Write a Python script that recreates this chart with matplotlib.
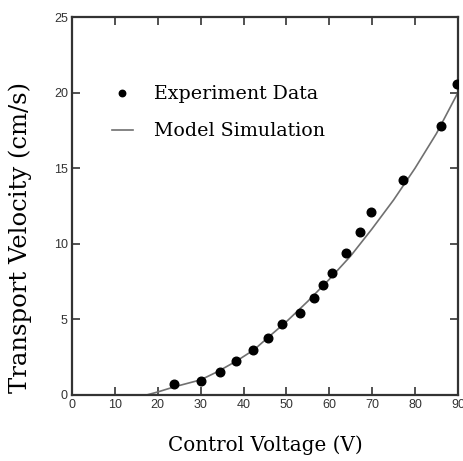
import matplotlib
matplotlib.use("Agg")
import matplotlib.pyplot as plt

# Experiment data
exp_voltage = [23.8, 30.1, 34.4, 38.3, 42.1, 45.6, 48.9, 53.1, 56.4, 58.5, 60.6, 63.9, 67.2, 69.7, 77.3, 86.1, 89.7]
exp_velocity = [0.73, 0.95, 1.5, 2.25, 3.0, 3.8, 4.7, 5.4, 6.4, 7.3, 8.1, 9.4, 10.8, 12.1, 14.2, 17.8, 20.6]

# Model simulation curve
model_voltage = [17.4, 20, 24, 30, 34, 38.5, 42.5, 45.5, 50, 55, 60, 65, 70, 75, 80, 85, 90]
model_velocity = [0.0, 0.2, 0.55, 1.0, 1.55, 2.27, 3.0, 3.75, 4.85, 6.2, 7.65, 9.2, 11.0, 12.9, 15.0, 17.3, 20.0]

x_ticks = [0, 10, 20, 30, 40, 50, 60, 70, 80, 90]
y_ticks = [0, 5, 10, 15, 20, 25]

serif = ["DejaVu Serif"]
narrow = ["Liberation Sans Narrow", "Liberation Sans", "DejaVu Sans"]

fig = plt.figure(figsize=(4.63, 4.61), dpi=100)
ax = fig.add_axes([0.1555, 0.1432, 0.989 - 0.1555, 0.963 - 0.1432])

ax.plot(model_voltage, model_velocity, color="#707070", lw=1.2, label="Model Simulation", zorder=2)
ax.plot(exp_voltage, exp_velocity, "o", color="black", ms=6.2, label="Experiment Data", zorder=3)

ax.set_xlim(0, 90)
ax.set_ylim(0, 25)
ax.set_xticks(x_ticks)
ax.set_yticks(y_ticks)
ax.tick_params(direction="in", length=6, width=1.2, colors="#333333",
               top=True, right=True, labelsize=9, pad=3)
for lab in ax.get_xticklabels() + ax.get_yticklabels():
    lab.set_family(narrow)
    lab.set_color("#333333")
for sp in ax.spines.values():
    sp.set_linewidth(1.6)
    sp.set_color("#333333")

ax.set_xlabel("Control Voltage (V)", family=serif, fontsize=14.3)
ax.set_ylabel("Transport Velocity (cm/s)", family=serif, fontsize=17.5)
ax.xaxis.set_label_coords(0.5, -0.108)
ax.yaxis.set_label_coords(-0.104, 0.418)

handles, labels = ax.get_legend_handles_labels()
leg = ax.legend(handles[::-1], labels[::-1], loc="upper left", bbox_to_anchor=(0.103, 0.819),
                frameon=False, prop={"family": serif, "size": 13.7}, borderpad=0, borderaxespad=0,
                handlelength=1.1, handletextpad=1.1, labelspacing=1.0, markerscale=0.75)

fig.savefig("out.png", dpi=100)
